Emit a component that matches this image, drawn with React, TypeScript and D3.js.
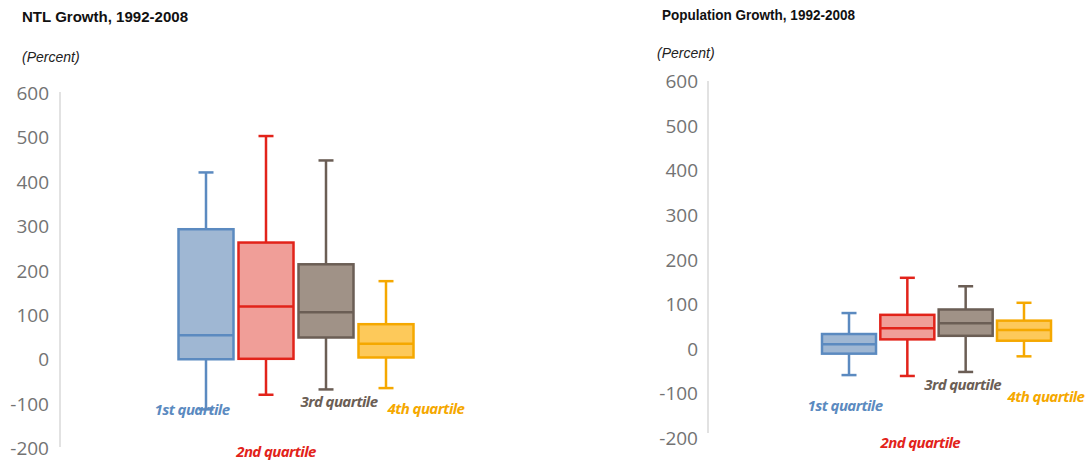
import React from "react";
import * as d3 from "d3";

// Quartile groups shared by both panels
const quartiles = ["1st quartile", "2nd quartile", "3rd quartile", "4th quartile"];

// NTL growth, 1992-2008 (percent): whisker ends, box edges and medians
const ntlLow = [-113, -80, -68, -65];
const ntlQ1 = [0, 1, 49, 4];
const ntlMedian = [54, 119, 106, 35];
const ntlQ3 = [293, 263, 214, 79];
const ntlHigh = [421, 503, 448, 176];

// Population growth, 1992-2008 (percent)
const popLow = [-59, -61, -52, -17];
const popQ1 = [-11, 21, 29, 18];
const popMedian = [10, 46, 57, 42];
const popQ3 = [33, 76, 88, 63];
const popHigh = [80, 159, 140, 103];

const yTicks = [-200, -100, 0, 100, 200, 300, 400, 500, 600];

const strokeColors = ["#5b8ac0", "#e2231a", "#6b5e55", "#f5a800"];
const fillColors = ["#9fb7d3", "#f09e98", "#a09287", "#fdc95a"];

type Panel = {
  title: string;
  titleX: number;
  titleY: number;
  titleWidth: number;
  unitX: number;
  unitY: number;
  axisX: number;
  tickRight: number;
  yTop: number;
  yBottom: number;
  axisTop: number;
  axisBottom: number;
  bandRange: [number, number];
  padInner: number;
  low: number[];
  q1: number[];
  median: number[];
  q3: number[];
  high: number[];
  labelDx: number[];
  labelY: number[];
};

const panels: Panel[] = [
  {
    title: "NTL Growth, 1992-2008",
    titleX: 22,
    titleY: 17,
    titleWidth: 166,
    unitX: 22,
    unitY: 57,
    axisX: 60,
    tickRight: 49,
    yTop: 93,
    yBottom: 448,
    axisTop: 92,
    axisBottom: 447,
    bandRange: [178.5, 413.5],
    padInner: 1 / 12,
    low: ntlLow,
    q1: ntlQ1,
    median: ntlMedian,
    q3: ntlQ3,
    high: ntlHigh,
    labelDx: [-14, 10, 13, 40],
    labelY: [-113, -207, -95, -110],
  },
  {
    title: "Population Growth, 1992-2008",
    titleX: 662,
    titleY: 15,
    titleWidth: 193,
    unitX: 657,
    unitY: 53,
    axisX: 708,
    tickRight: 698,
    yTop: 81,
    yBottom: 438,
    axisTop: 81,
    axisBottom: 433,
    bandRange: [822, 1051],
    padInner: 0.074,
    low: popLow,
    q1: popQ1,
    median: popMedian,
    q3: popQ3,
    high: popHigh,
    labelDx: [-4, 13, -3, 22],
    labelY: [-126, -209, -79, -106],
  },
];

function BoxPanel({ p }: { p: Panel }) {
  const y = d3.scaleLinear().domain([-200, 600]).range([p.yBottom, p.yTop]);
  const x = d3
    .scaleBand<string>()
    .domain(quartiles)
    .range(p.bandRange)
    .paddingInner(p.padInner)
    .paddingOuter(0);
  const bw = x.bandwidth();
  const capHalf = 7.5;

  return (
    <g>
      <text
        x={p.titleX}
        y={p.titleY}
        dominantBaseline="central"
        fontFamily="'Liberation Sans', Arial, sans-serif"
        fontWeight="bold"
        fontSize={14}
        fill="#111"
        textLength={p.titleWidth}
        lengthAdjust="spacingAndGlyphs"
      >
        {p.title}
      </text>
      <text
        x={p.unitX}
        y={p.unitY}
        dominantBaseline="central"
        fontFamily="'Liberation Sans', Arial, sans-serif"
        fontStyle="italic"
        fontSize={14}
        fill="#222"
      >
        (Percent)
      </text>

      <line
        x1={p.axisX}
        x2={p.axisX}
        y1={p.axisTop}
        y2={p.axisBottom}
        stroke="#d9d9d9"
        strokeWidth={1.5}
      />
      {yTicks.map((t) => (
        <text
          key={t}
          x={p.tickRight}
          y={y(t)}
          textAnchor="end"
          dominantBaseline="central"
          fontFamily="'Open Sans', 'Noto Sans', sans-serif"
          fontSize={19}
          fill="#737373"
        >
          {t}
        </text>
      ))}

      {/* quartile names sit beneath the whiskers */}
      {quartiles.map((q, i) => {
        const cx = x(q)! + bw / 2 + p.labelDx[i];
        return (
          <text
            key={"lbl" + q}
            x={cx}
            y={y(p.labelY[i])}
            textAnchor="middle"
            dominantBaseline="central"
            fontFamily="'Open Sans', 'Noto Sans', sans-serif"
            fontWeight="bold"
            fontStyle="italic"
            fontSize={15}
            letterSpacing={-0.6}
            fill={strokeColors[i]}
          >
            {q}
          </text>
        );
      })}

      {quartiles.map((q, i) => {
        const x0 = x(q)!;
        const cx = x0 + bw / 2;
        const sc = strokeColors[i];
        return (
          <g key={q}>
            <line x1={cx} x2={cx} y1={y(p.high[i])} y2={y(p.q3[i])} stroke={sc} strokeWidth={2.5} />
            <line x1={cx} x2={cx} y1={y(p.q1[i])} y2={y(p.low[i])} stroke={sc} strokeWidth={2.5} />
            <line x1={cx - capHalf} x2={cx + capHalf} y1={y(p.high[i])} y2={y(p.high[i])} stroke={sc} strokeWidth={2.5} />
            <line x1={cx - capHalf} x2={cx + capHalf} y1={y(p.low[i])} y2={y(p.low[i])} stroke={sc} strokeWidth={2.5} />
            <rect
              x={x0}
              y={y(p.q3[i])}
              width={bw}
              height={y(p.q1[i]) - y(p.q3[i])}
              fill={fillColors[i]}
              stroke={sc}
              strokeWidth={2.5}
            />
            <line x1={x0} x2={x0 + bw} y1={y(p.median[i])} y2={y(p.median[i])} stroke={sc} strokeWidth={2.5} />
          </g>
        );
      })}
    </g>
  );
}

export default function App() {
  return (
    <svg
      width={1086}
      height={462}
      style={{ position: "absolute", left: 0, top: 0, background: "#fff" }}
    >
      <rect width={1086} height={462} fill="#fff" />
      {panels.map((p) => (
        <BoxPanel key={p.title} p={p} />
      ))}
    </svg>
  );
}
